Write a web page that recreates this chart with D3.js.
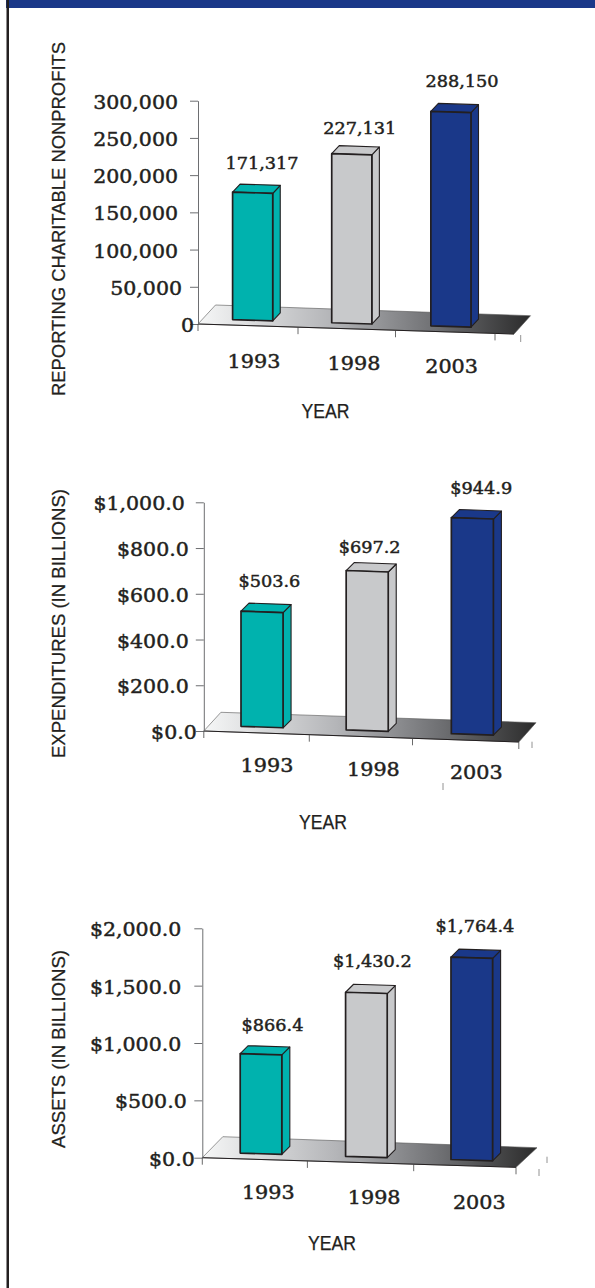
<!DOCTYPE html>
<html>
<head>
<meta charset="utf-8">
<script src="https://cdn.jsdelivr.net/npm/d3@7"></script>
<style>
  html, body { margin: 0; padding: 0; background: #fff; }
  svg { display: block; }
  .num { font-family: "DejaVu Serif", serif; fill: #231f20; stroke: #231f20; stroke-width: 0.45px; }
  .ttl { font-family: "Liberation Sans", Arial, sans-serif; fill: #231f20; stroke: #231f20; stroke-width: 0.25px; }
</style>
</head>
<body>
<svg></svg>
<script>
// Chart values
const years = ["1993", "1998", "2003"];
const nonprofits = [171317, 227131, 288150];
const expenditures = [503.6, 697.2, 944.9];
const assets = [866.4, 1430.2, 1764.4];

const nonprofitTicks = [0, 50000, 100000, 150000, 200000, 250000, 300000];
const expenditureTicks = [0, 200, 400, 600, 800, 1000];
const assetTicks = [0, 500, 1000, 1500, 2000];

const barColors = ["#00b2ae", "#c8c9cb", "#1a3889"];

const width = 595;
const height = 1288;

const svg = d3.select("svg").attr("width", width).attr("height", height);

const ink = "#231f20";

// Floor gradient shared by the three charts
const grad = svg.append("defs").append("linearGradient").attr("id", "floor");
grad.append("stop").attr("offset", "0%").attr("stop-color", "#f6f7f7");
grad.append("stop").attr("offset", "40%").attr("stop-color", "#b4b5b8");
grad.append("stop").attr("offset", "72%").attr("stop-color", "#6d6e71");
grad.append("stop").attr("offset", "100%").attr("stop-color", "#2b2b2b");

// Frame
svg.append("rect").attr("x", 6).attr("y", 0).attr("width", width - 6).attr("height", 8).attr("fill", "#1a3889");
svg.append("rect").attr("x", 6.5).attr("y", 0).attr("width", 2.5).attr("height", height).attr("fill", ink);

// Layout of each chart (pixels on the page)
const charts = [
  {
    values: nonprofits, ticks: nonprofitTicks, format: d3.format(","),
    title: "REPORTING CHARITABLE NONPROFITS", titleLen: 354, titleY: 219,
    axisX: 198, top: 100.7, zero: 324,
    floorBack: [[215.5, 305], [530.5, 315.7]], floorRight: [514, 334],
    bars: [232.6, 471], barPad: 0.595, baseOff: -5.5, depth: [7.5, -8],
    gridTicks: [298, 395.5, 495], strayTicks: [[520.7, 335, 342]],
    tickGap: (v) => (v === 0 ? 4 : v === 50000 ? 16 : 20), tickStretch: 1.14, tickSize: 18,
    labels: [[262, 163.7], [359.8, 128.7], [462, 81.7]], labelStretch: 1.12, labelSize: 15.8,
    yearPos: [[254, 361], [354, 363], [451.6, 366.7]],
    yearTitle: [325.6, 411],
  },
  {
    values: expenditures, ticks: expenditureTicks, format: (d) => "$" + d3.format(",.1f")(d),
    title: "EXPENDITURES (IN BILLIONS)", titleLen: 269, titleY: 623.5,
    axisX: 203.8, top: 502.3, zero: 731,
    floorBack: [[220.9, 712.3], [536, 722.7]], floorRight: [518.8, 742],
    bars: [241, 493.4], barPad: 0.6, baseOff: -6, depth: [8, -8],
    gridTicks: [309.3, 412.5, 518.8], strayTicks: [[532, 741.7, 748], [443, 783, 790]],
    tickGap: (v) => (v === 0 ? 7 : v === 1000 ? 19 : 15), tickStretch: 1.14, tickSize: 18,
    labels: [[269.4, 581.7], [369.6, 547.7], [481.2, 488.3]], labelStretch: 1.12, labelSize: 15.8,
    yearPos: [[267, 765.7], [373.4, 769], [476.3, 772.7]],
    yearTitle: [323, 822],
  },
  {
    values: assets, ticks: assetTicks, format: (d) => "$" + d3.format(",.1f")(d),
    title: "ASSETS (IN BILLIONS)", titleLen: 198, titleY: 1049,
    axisX: 202.3, top: 928.3, zero: 1157.7,
    floorBack: [[222.8, 1136.7], [537, 1147.7]], floorRight: [516, 1167.3],
    bars: [240.2, 492.6], barPad: 0.605, baseOff: -5.8, depth: [8, -8],
    gridTicks: [307.4, 413.7, 516], strayTicks: [[539, 1169, 1176], [547, 1156.7, 1163]],
    tickGap: (v) => (v === 0 ? 7.6 : v === 500 ? 15.6 : 21), tickStretch: 1.14, tickSize: 18,
    labels: [[272.5, 1025.7], [372.3, 961.7], [475, 926.7]], labelStretch: 1.12, labelSize: 15.8,
    yearPos: [[268.3, 1192.7], [374.2, 1197.7], [479.3, 1202]],
    yearTitle: [332, 1243],
  },
];

// Widen the text, the original uses a broad slab face
function stretch(sel, k) {
  sel.each(function () {
    d3.select(this)
      .attr("textLength", this.getComputedTextLength() * k)
      .attr("lengthAdjust", "spacingAndGlyphs");
  });
}

charts.forEach((c) => {
  const g = svg.append("g");

  const y = d3.scaleLinear().domain(d3.extent(c.ticks)).range([c.zero, c.top]);
  const x = d3.scaleBand().domain(years).range(c.bars).paddingInner(c.barPad).paddingOuter(0);

  // the floor line runs downhill to the right
  const slope = (c.floorRight[1] - c.zero) / (c.floorRight[0] - c.axisX);
  const floorY = (px) => c.zero + slope * (px - c.axisX);

  // Floor
  g.append("path")
    .attr("d", d3.line()([[c.axisX, c.zero], c.floorBack[0], c.floorBack[1], c.floorRight]) + "Z")
    .attr("fill", "url(#floor)")
    .attr("stroke", "#555")
    .attr("stroke-width", 0.6);
  g.append("line")
    .attr("x1", c.axisX).attr("y1", c.zero)
    .attr("x2", c.floorRight[0]).attr("y2", c.floorRight[1])
    .attr("stroke", ink).attr("stroke-width", 1);

  // Y axis
  const yAxis = g.append("g")
    .attr("transform", `translate(${c.axisX},0)`)
    .call(d3.axisLeft(y).tickValues(c.ticks).tickSize(8).tickSizeOuter(0).tickFormat(c.format));
  yAxis.select(".domain").attr("stroke", "#6d6e71").attr("stroke-width", 1);
  yAxis.selectAll(".tick line").attr("stroke", "#6d6e71").attr("stroke-width", 1);
  yAxis.selectAll(".tick text")
    .attr("class", "num")
    .attr("x", (d) => -c.tickGap(d))
    .attr("dy", "0.42em")
    .attr("text-anchor", "end")
    .style("font-size", c.tickSize + "px")
    .call(stretch, c.tickStretch);

  // Floor ticks
  [c.axisX].concat(c.gridTicks).forEach((px) => {
    g.append("line")
      .attr("x1", px).attr("y1", floorY(px))
      .attr("x2", px).attr("y2", floorY(px) + 7)
      .attr("stroke", "#444").attr("stroke-width", 0.8);
  });
  c.strayTicks.forEach((t) => {
    g.append("line")
      .attr("x1", t[0]).attr("y1", t[1])
      .attr("x2", t[0]).attr("y2", t[2])
      .attr("stroke", "#777").attr("stroke-width", 0.8);
  });

  // Bars
  const line = d3.line();
  const [dx, dy] = c.depth;
  const bar = g.selectAll(".bar")
    .data(years.map((yr, i) => ({ yr, v: c.values[i], color: barColors[i] })))
    .join("g")
    .attr("class", "bar")
    .attr("fill", (d) => d.color)
    .attr("stroke", ink)
    .attr("stroke-width", 1.7)
    .attr("stroke-linejoin", "round");

  const corners = (d) => {
    const xl = x(d.yr);
    const xr = xl + x.bandwidth();
    const h = c.zero - y(d.v);
    const bl = floorY(xl) + c.baseOff;
    const br = floorY(xr) + c.baseOff;
    return { xl, xr, bl, br, tl: bl - h, tr: br - h };
  };

  bar.append("path").attr("d", (d) => {
    const p = corners(d);
    return line([[p.xr, p.br], [p.xr + dx, p.br + dy], [p.xr + dx, p.tr + dy], [p.xr, p.tr]]) + "Z";
  }).attr("stroke-width", 1.1);
  bar.append("path").attr("d", (d) => {
    const p = corners(d);
    return line([[p.xl, p.tl], [p.xl + dx, p.tl + dy], [p.xr + dx, p.tr + dy], [p.xr, p.tr]]) + "Z";
  }).attr("stroke-width", 1.1);
  bar.append("path").attr("d", (d) => {
    const p = corners(d);
    return line([[p.xl, p.tl], [p.xr, p.tr], [p.xr, p.br], [p.xl, p.bl]]) + "Z";
  });

  // Value labels
  g.selectAll(".val")
    .data(c.values)
    .join("text")
    .attr("class", "num val")
    .attr("x", (d, i) => c.labels[i][0])
    .attr("y", (d, i) => c.labels[i][1])
    .attr("dy", "0.36em")
    .attr("text-anchor", "middle")
    .style("font-size", c.labelSize + "px")
    .text(c.format)
    .call(stretch, c.labelStretch);

  // Year labels
  g.selectAll(".yr")
    .data(years)
    .join("text")
    .attr("class", "num yr")
    .attr("x", (d, i) => c.yearPos[i][0])
    .attr("y", (d, i) => c.yearPos[i][1])
    .attr("dy", "0.36em")
    .attr("text-anchor", "middle")
    .style("font-size", "18.5px")
    .text((d) => d)
    .call(stretch, 1.12);

  // Axis titles
  g.append("text")
    .attr("class", "ttl")
    .attr("transform", `translate(57.7,${c.titleY}) rotate(-90)`)
    .attr("dy", "0.36em")
    .attr("text-anchor", "middle")
    .attr("textLength", c.titleLen)
    .attr("lengthAdjust", "spacingAndGlyphs")
    .style("font-size", "19px")
    .text(c.title);

  g.append("text")
    .attr("class", "ttl")
    .attr("x", c.yearTitle[0])
    .attr("y", c.yearTitle[1])
    .attr("dy", "0.36em")
    .attr("text-anchor", "middle")
    .attr("textLength", 48)
    .attr("lengthAdjust", "spacingAndGlyphs")
    .style("font-size", "19.5px")
    .text("YEAR");
});
</script>
</body>
</html>
